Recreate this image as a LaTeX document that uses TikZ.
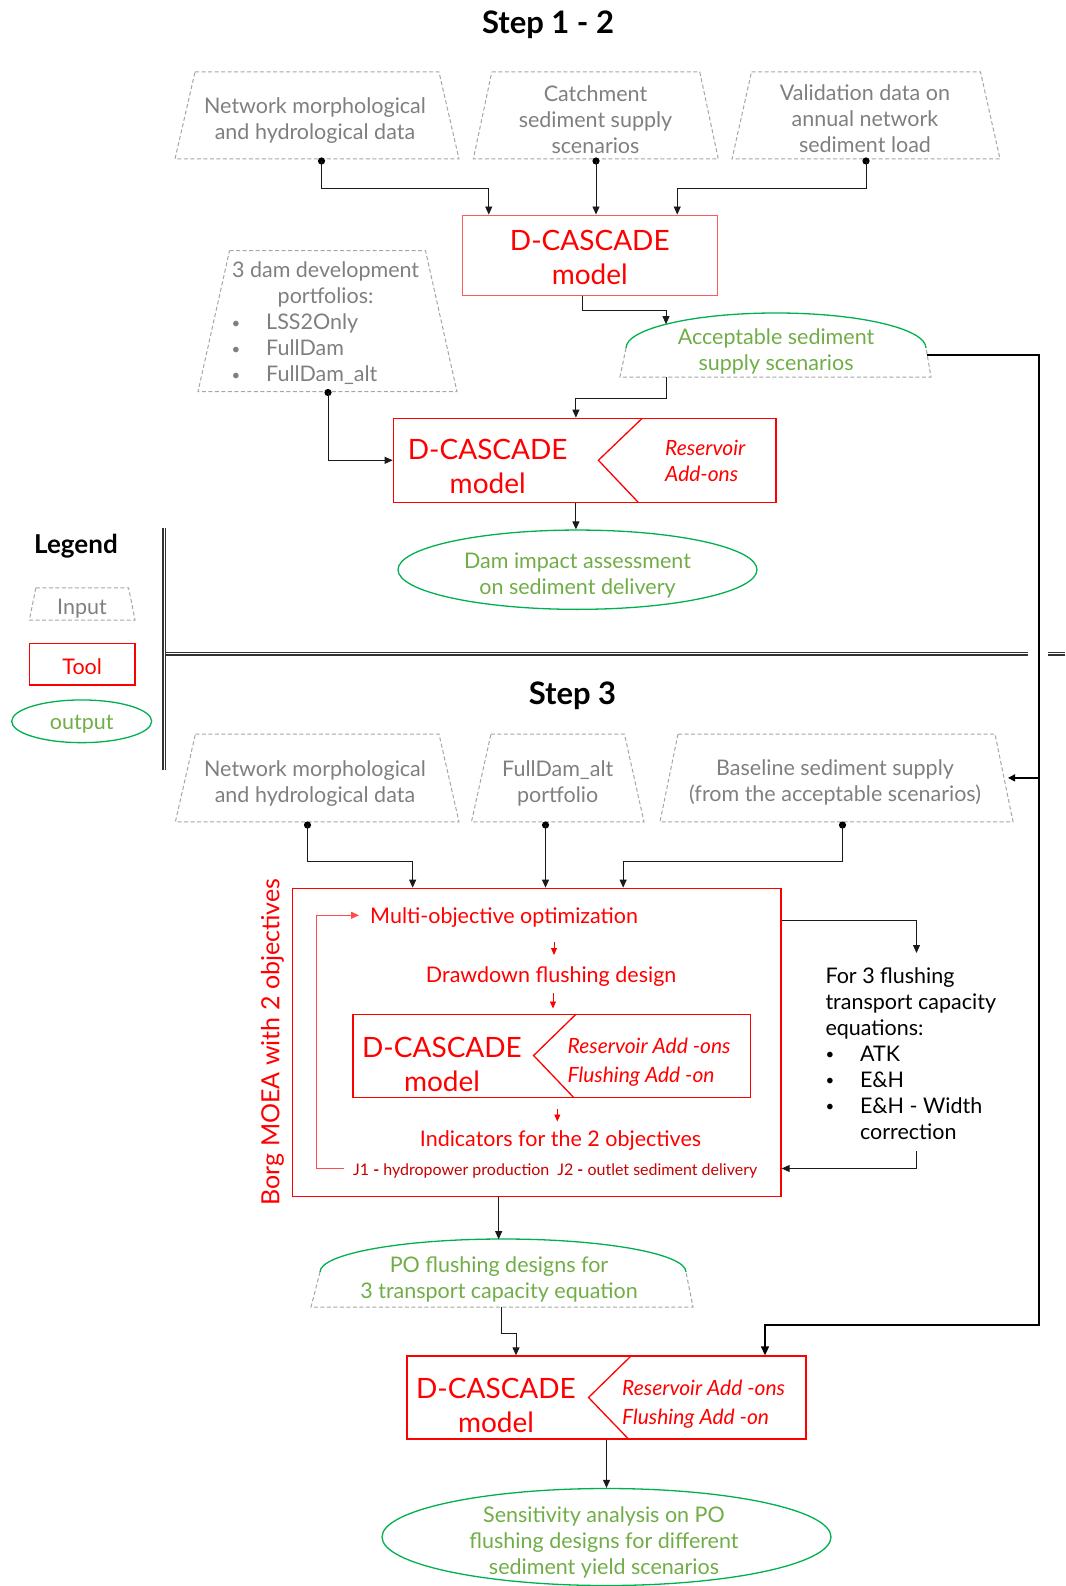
\documentclass[tikz,border=0pt]{standalone}
\usepackage{fontspec}
\setmainfont{Lato}
\usetikzlibrary{shapes.geometric,arrows.meta,calc}

\definecolor{ingray}{HTML}{A6A6A6}
\definecolor{intext}{HTML}{7F7F7F}
\definecolor{toolred}{HTML}{FF0000}
\definecolor{pinkred}{HTML}{FF5A5A}
\definecolor{outgreen}{HTML}{00B050}
\definecolor{outtext}{HTML}{70AD47}
\definecolor{darkred}{HTML}{C80000}
\definecolor{loopred}{HTML}{FF4D4D}
\definecolor{linegray}{HTML}{1A1A1A}

\newcommand{\blt}{\makebox[34.5pt][l]{\raisebox{1.5pt}{\scalebox{0.7}{•}}}}
% trapezoid input: name, cx, cy, bottom width, height, top inset
\newcommand{\trapnode}[6]{%
  \node[minimum width=#4pt, minimum height=#5pt, inner sep=0pt, outer sep=0pt] (#1) at (#2,#3) {};
  \draw[dashgray] ([xshift=#6pt]#1.north west) -- ([xshift=-#6pt]#1.north east) -- (#1.south east) -- (#1.south west) -- cycle;}

\begin{document}
\begin{tikzpicture}[x=1pt,y=-1pt,
  txt/.style={font=\fontsize{21.5}{26}\selectfont, align=center, inner sep=0pt},
  intxt/.style={txt, text=intext},
  tool/.style={draw=toolred, line width=1.3pt, inner sep=0pt},
  big/.style={font=\fontsize{28}{34}\selectfont, text=toolred, align=center, inner sep=0pt},
  ital/.style={font=\itshape\fontsize{21}{26}\selectfont, text=toolred, align=left, inner sep=0pt},
  italb/.style={font=\itshape\fontsize{21}{29.5}\selectfont, text=toolred, align=left, inner sep=0pt},
  outp/.style={ellipse, draw=outgreen, line width=1.3pt, inner sep=0pt},
  gtxt/.style={txt, text=outtext},
  conn/.style={draw=linegray, line width=0.9pt, -{Triangle[length=8pt,width=7pt]}},
  bus/.style={draw=black, line width=1.5pt},
  redarr/.style={draw=toolred, line width=0.9pt, -{Triangle[length=7pt,width=6pt]}},
  loopline/.style={draw=loopred, line width=1pt, -{Triangle[length=8pt,width=7pt]}},
  dbl/.style={draw=black!80, double=white, double distance=1.2pt, line width=1.2pt},
  ttl/.style={font=\bfseries\fontsize{31}{36}\selectfont, inner sep=0pt},
  dashgray/.style={draw=ingray, line width=1pt, dash pattern=on 4pt off 2.5pt},
]
\useasboundingbox (0,0) rectangle (1065,1586);

% ---------------- Step 1-2 ----------------
\node[ttl] (t12) at (548,25) {Step 1 - 2};

\trapnode{in1}{317}{115.5}{284}{87}{20}
\node[intxt] (in1t) at (315,120.7) {Network morphological\\and hydrological data};
\trapnode{in2}{595.8}{115.5}{245}{87}{18.5}
\node[intxt] (in2t) at (595.5,119.5) {Catchment\\sediment supply\\scenarios};
\trapnode{in3}{866}{115.5}{268}{87}{19.5}
\node[intxt] (in3t) at (865,118.5) {Validation data on\\annual network\\sediment load};

\coordinate (d1) at (321.5,161);
\coordinate (d2) at (596,161);
\coordinate (d3) at (866,161);
\foreach \d in {d1,d2,d3} \fill (\d) circle[radius=3.6pt];

\node[tool, draw=pinkred, minimum width=255pt, minimum height=80pt] (box1) at (589.8,255.2) {};
\node[big] (box1t) at (589.8,257.4) {D-CASCADE\\model};

\draw[conn] (d1) -- ++(0,27) -| ([xshift=27.1pt]box1.north west);
\draw[conn] (d2) -- (d2 |- box1.north);
\draw[conn] (d3) -- ++(0,27) -| ([xshift=-40.7pt]box1.north east);

% acceptable scenarios
\node[gtxt] (acc) at (776,351.5) {Acceptable sediment\\supply scenarios};
\draw[outgreen, line width=1.3pt] (626,348) .. controls (626,328.7) and (693.2,313) .. (776,313) .. controls (858.8,313) and (926,328.7) .. (926,348);
\draw[dashgray] (626,348) -- (620,377) -- (931,377) -- (926,348);
\coordinate (acctop) at (666,324.2);
\coordinate (accbot) at (666,377);
\coordinate (accr) at (927.3,355);

\draw[conn] ([xshift=-7pt]box1.south) -- ++(0,15) -| (acctop);

% dam portfolios
\trapnode{dam}{327.5}{321.2}{259}{141}{31.5}
\node[intxt] (damh) at (325.6,284.5) {3 dam development\\portfolios:};
\node[intxt, align=left, anchor=west] (daml) at (231.5,349.5) {\blt LSS2Only\\\blt FullDam\\\blt FullDam\_alt};
\coordinate (dd) at (328,392.5);
\fill (dd) circle[radius=3.6pt];

% box 2
\node[tool, minimum width=382.6pt, minimum height=84pt] (box2) at (584.6,460.3) {};
\draw[toolred, line width=1.3pt] (642.2,418.3) -- (598.4,460.3) -- (638.2,502.3);
\node[big] (b2t) at (487.7,466) {D-CASCADE\\model};
\node[ital, anchor=west] (b2i) at (665,461) {Reservoir\\Add-ons};

\draw[conn] (dd) |- (box2.west);
\draw[conn] (accbot) -- ++(0,21.3) -| ([xshift=-8.7pt]box2.north);

\node[outp, minimum width=359pt, minimum height=79.3pt] (imp) at (577.5,569.7) {};
\node[gtxt] (impt) at (577.5,575) {Dam impact assessment\\on sediment delivery};
\coordinate (b2o) at ([xshift=-8.7pt]box2.south);
\draw[conn] (b2o) -- (b2o |- imp.north);

% ---------------- Legend ----------------
\node[font=\bfseries\fontsize{26}{30}\selectfont, inner sep=0pt] (leg) at (76,546.5) {Legend};
\trapnode{lin}{82.2}{603.9}{105.7}{32.3}{6.5}
\node[intxt] (lint) at (82,608.9) {Input};
\node[tool, minimum width=105.7pt, minimum height=41.7pt] (ltool) at (82.2,664.2) {};
\node[txt, text=toolred] (ltoolt) at (82.2,666.4) {Tool};
\node[outp, minimum width=140pt, minimum height=42.7pt] (lout) at (81.7,721.3) {};
\node[gtxt] (loutt) at (81.7,724.3) {output};

\draw[dbl] (164.2,528) -- (164.2,770);
\draw[dbl] (166,653.8) -- (1028.3,653.8);
\draw[dbl] (1048.3,653.8) -- (1065,653.8);

% ---------------- Step 3 ----------------
\node[ttl] (t3) at (572.5,696) {Step 3};

\trapnode{inA}{317.2}{777.9}{283.6}{87.7}{20}
\node[intxt] (inAt) at (315,783.9) {Network morphological\\and hydrological data};
\trapnode{inB}{557.7}{777.9}{172.5}{87.7}{19.5}
\node[intxt] (inBt) at (557.7,783.9) {FullDam\_alt\\portfolio};
\trapnode{inC}{836.5}{777.9}{353}{87.7}{18}
\node[intxt] (inCt) at (835,782.9) {Baseline sediment supply\\(from the acceptable scenarios)};

\coordinate (dA) at (307.5,825);
\coordinate (dB) at (545.5,825);
\coordinate (dC) at (842.5,825);
\foreach \d in {dA,dB,dC} \fill (\d) circle[radius=3.6pt];

\node[tool, minimum width=488.7pt, minimum height=308.4pt] (borg) at (536.65,1042.5) {};
\node[font=\fontsize{25}{30}\selectfont, text=toolred, rotate=90, inner sep=0pt] (borgt) at (272.5,1042) {Borg MOEA with 2 objectives};

\draw[conn] (dA) -- ++(0,36.7) -| ([xshift=121pt]borg.north west);
\draw[conn] (dB) -- (dB |- borg.north);
\draw[conn] (dC) -- ++(0,36.7) -| ([xshift=-158.5pt]borg.north east);

\node[txt, text=toolred, anchor=west] (moo) at (370,917.3) {Multi-objective optimization};
\node[txt, text=toolred] (dfd) at (551.2,977) {Drawdown flushing design};

\node[tool, minimum width=397.5pt, minimum height=83pt] (ibox) at (551.75,1055.75) {};
\draw[toolred, line width=1.3pt] (575.9,1014.3) -- (533.6,1055.5) -- (573.4,1097.2);
\node[big] (ibt) at (442,1064) {D-CASCADE\\model};
\node[italb, anchor=west] (ibi) at (567.5,1062) {Reservoir Add -ons\\Flushing Add -on};

\node[txt, text=toolred] (ind) at (560.5,1141) {Indicators for the 2 objectives};
\node[font=\fontsize{16}{19}\selectfont, text=darkred, anchor=west, inner sep=0pt] (jt) at (353,1170.5) {J1 \textbf{-} hydropower production\hspace{0.5em}J2 \textbf{-} outlet sediment delivery};

\draw[redarr] (554,941.5) -- (554,955);
\draw[redarr] (553,993) -- (553,1008.5);
\draw[redarr] (557.3,1109) -- (557.3,1121.5);

\coordinate (js) at ([xshift=-9.5pt,yshift=2pt]jt.west);
\draw[loopline] (js) -- ++(-27.2,0) |- ([xshift=-11pt,yshift=2pt]moo.west);

\node[txt, align=left, text=black, anchor=west] (eq) at (825.3,1053.4) {For 3 flushing\\transport capacity\\equations:\\\blt ATK\\\blt E\&H\\\blt E\&H - Width\\\hspace*{34.5pt}correction};
\coordinate (bo) at ([yshift=-33pt]borg.north east);
\coordinate (eqin) at (916.5,953);
\coordinate (eqout) at (916.5,1151);
\draw[conn] (bo) -| (eqin);
\draw[conn] (eqout) |- (borg.east |- js);

% PO flushing designs dome
\node[gtxt] (po) at (499,1279) {PO flushing designs for\\3 transport capacity equation};
\draw[outgreen, line width=1.3pt] (320,1272) .. controls (320,1253.8) and (401.9,1239) .. (503,1239) .. controls (604.1,1239) and (686,1253.8) .. (686,1272);
\draw[dashgray] (320,1272) -- (311,1307) -- (693,1307) -- (686,1272);
\coordinate (potop) at (498.65,1239.2);
\coordinate (pobot) at (501.6,1307);
\draw[conn] ([xshift=-38pt]borg.south) -- (potop);

% box 4
\node[tool, minimum width=399pt, minimum height=83pt] (box4) at (606.5,1397.5) {};
\draw[toolred, line width=1.3pt] (631,1356) -- (588.5,1397.5) -- (628.5,1439);
\node[big] (b4t) at (496,1405.7) {D-CASCADE\\model};
\node[italb, anchor=west] (b4i) at (622,1404) {Reservoir Add -ons\\Flushing Add -on};

\draw[conn] (pobot) -- ++(0,26) -| ([xshift=-90.5pt]box4.north);

% bus on the right
\coordinate (bus1) at (1039,355);
\coordinate (bus2) at (1039,1325);
\coordinate (bin) at (1039,777.9);
\draw[bus, -{Triangle[length=9pt,width=8pt]}] (accr) -- (bus1) -- (bus2) -| ([xshift=158.5pt]box4.north);
\draw[bus, -{Triangle[length=7pt,width=7pt]}] (bin) -- ([xshift=-5pt]inC.east);

% sensitivity
\node[outp, minimum width=449pt, minimum height=97pt] (sens) at (606.5,1537) {};
\node[gtxt] (senst) at (604,1542.4) {Sensitivity analysis on PO\\flushing designs for different\\sediment yield scenarios};
\draw[conn] (box4.south) -- (sens.north);

\end{tikzpicture}
\end{document}
